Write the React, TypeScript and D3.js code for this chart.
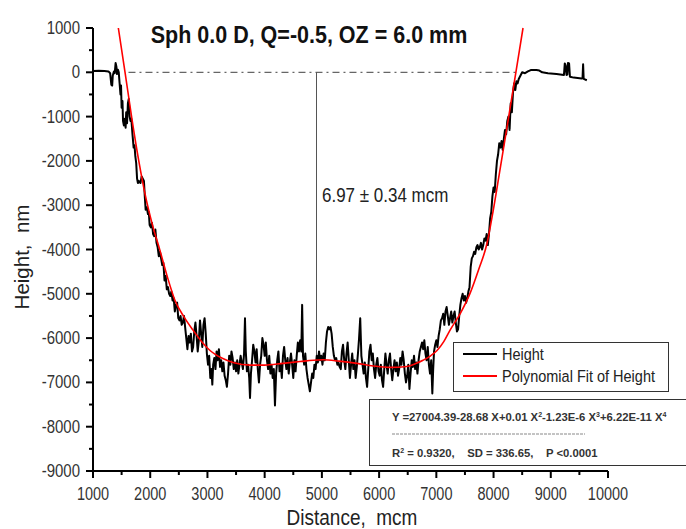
import React from "react";
import * as d3 from "d3";

const heightX = [1000,1100,1200,1270,1300,1320,1335,1345,1365,1380,1395,1410,1420,1435,1450,1465,1480,1490,1500,1515,1525,1540,1555,1570,1580,1595,1610,1625,1640,1655,1670,1690,1710,1725,1740,1755,1770,1785,1800,1830,1850,1870,1890,1905,1920,1940,1960,1975,1990,2010,2030,2050,2070,2090,2110,2130,2150,2170,2190,2210,2230,2250,2270,2290,2310,2330,2350,2370,2390,2410,2430,2450,2470,2490,2510,2530,2550,2570,2590,2610,2630,2650,2670,2690,2710,2730,2750,2770,2790,2810,2830,2850,2870,2890,2910,2930,2950,2970,2990,3010,3030,3050,3070,3085,3100,3120,3140,3160,3180,3200,3220,3240,3260,3280,3300,3320,3340,3360,3380,3400,3420,3440,3460,3480,3500,3520,3540,3560,3580,3600,3620,3640,3656,3670,3690,3710,3730,3744,3760,3780,3800,3820,3840,3860,3880,3900,3920,3940,3960,3980,4000,4020,4040,4060,4080,4100,4120,4140,4160,4180,4200,4220,4240,4260,4280,4300,4320,4340,4360,4380,4400,4420,4440,4460,4480,4500,4520,4540,4560,4580,4600,4620,4640,4655,4670,4690,4710,4730,4750,4770,4790,4810,4830,4850,4870,4890,4910,4930,4950,4970,4990,5010,5030,5050,5070,5090,5110,5130,5150,5170,5190,5210,5230,5250,5270,5290,5310,5330,5350,5370,5390,5410,5430,5450,5470,5490,5510,5530,5550,5570,5590,5610,5630,5650,5670,5690,5710,5730,5750,5770,5790,5810,5830,5850,5870,5890,5910,5930,5950,5970,5990,6010,6030,6050,6070,6090,6110,6130,6150,6170,6190,6210,6230,6250,6270,6290,6310,6330,6350,6370,6390,6410,6430,6450,6470,6490,6510,6530,6550,6570,6590,6610,6630,6650,6670,6690,6710,6730,6750,6770,6790,6810,6830,6850,6870,6890,6910,6930,6945,6960,6980,7000,7020,7040,7060,7080,7100,7120,7140,7160,7180,7200,7220,7240,7260,7280,7300,7320,7340,7360,7380,7400,7420,7440,7460,7480,7500,7520,7540,7560,7580,7600,7620,7640,7660,7680,7700,7720,7740,7760,7780,7800,7820,7840,7860,7880,7900,7920,7940,7960,7980,8000,8020,8040,8060,8080,8100,8120,8140,8160,8180,8200,8220,8240,8260,8280,8300,8320,8340,8360,8380,8400,8420,8440,8460,8500,8550,8600,8650,8750,8800,8850,8950,9100,9230,9245,9260,9275,9290,9300,9320,9335,9400,9540,9555,9565,9575,9630];
const heightY = [30,35,30,20,-20,-280,-300,-80,20,-20,210,120,-40,60,0,-250,-500,-300,-800,-650,-1100,-1200,-1050,-1250,-900,-1150,-700,-600,-1000,-1100,-1050,-1400,-1700,-1650,-1900,-2050,-2400,-2500,-2450,-2500,-2350,-2400,-2450,-2800,-3100,-3050,-3200,-3150,-3450,-3500,-3400,-3650,-3700,-3550,-3850,-3950,-4150,-4050,-4200,-4350,-4300,-4700,-4600,-4900,-4850,-5000,-5050,-4950,-5150,-5100,-5400,-5250,-5200,-5550,-5600,-5500,-5700,-5650,-5500,-5750,-6000,-6250,-5950,-6100,-5900,-6300,-6200,-5850,-5650,-5950,-6300,-6050,-5600,-5900,-6200,-5700,-5550,-5900,-6350,-6600,-6400,-6900,-6700,-7050,-6600,-6450,-6700,-6300,-6500,-6250,-6650,-6500,-6750,-6550,-6850,-6950,-7100,-6800,-6400,-6600,-6300,-6450,-6700,-6550,-6750,-6500,-6800,-6600,-6400,-6550,-6700,-6350,-5550,-6300,-6750,-6600,-6900,-7350,-6800,-6500,-6150,-6300,-6550,-6250,-6700,-7000,-6600,-6400,-6000,-6150,-6400,-6100,-6500,-6700,-6400,-6800,-6600,-6900,-6700,-7520,-6800,-6500,-6300,-6750,-6600,-6900,-6400,-6200,-6500,-6700,-6450,-6800,-6550,-6350,-6600,-6900,-6500,-6750,-6400,-6100,-6300,-6050,-6300,-5250,-6400,-6600,-6350,-6700,-6900,-7050,-7200,-7000,-6800,-6900,-6600,-6700,-6400,-6550,-6300,-6500,-6400,-6600,-6350,-6500,-6100,-5850,-5750,-5800,-5750,-5900,-6200,-6400,-6500,-6450,-6600,-6550,-6650,-6700,-6300,-6150,-6500,-6700,-6350,-6100,-6500,-6900,-6600,-6350,-6700,-6500,-6900,-6650,-6350,-6000,-5550,-6400,-6600,-6800,-6550,-6900,-7100,-6700,-6300,-6150,-6500,-6350,-6700,-6900,-6600,-6450,-6750,-6850,-6600,-6950,-7100,-6700,-6350,-6600,-6800,-6500,-6350,-6700,-6950,-6700,-6500,-6750,-6550,-6850,-6700,-6450,-6600,-6300,-6500,-6800,-7000,-6850,-6600,-7150,-6800,-6500,-6650,-6400,-6700,-6550,-6800,-6500,-6300,-6200,-6100,-6250,-6050,-6350,-6500,-6200,-6600,-6800,-6500,-7250,-6700,-6300,-6150,-6050,-6200,-5950,-5800,-5600,-5550,-5450,-5700,-5400,-5300,-5500,-5700,-5550,-5400,-5650,-5500,-5400,-5650,-5850,-5800,-5500,-5250,-5100,-5000,-5150,-5050,-5200,-5100,-4950,-4850,-4400,-4200,-4150,-4050,-4100,-3950,-3900,-4000,-3950,-3850,-4000,-3900,-3750,-3800,-3650,-3900,-3650,-3300,-3150,-2800,-2600,-2700,-2300,-2000,-1850,-1600,-1700,-1550,-1750,-1500,-1300,-1400,-1100,-1000,-1300,-700,-900,-450,-250,-400,-200,-250,-150,-100,0,-20,20,50,50,40,0,-20,-40,-60,200,150,-60,-50,210,200,-100,-120,-140,-130,180,-150,-180];

const fitX = [1443,1560,1680,1800,1910,2040,2170,2300,2433,2590,2748,2900,3045,3250,3447,3744,4000,4320,4618,4850,5020,5300,5614,5900,6190,6487,6650,6767,6900,7012,7130,7240,7420,7589,7740,7886,7990,8100,8235,8390,8515];
const fitY = [1000,0,-1050,-2000,-2750,-3450,-4020,-4620,-5150,-5520,-5820,-6080,-6280,-6450,-6550,-6610,-6610,-6570,-6530,-6500,-6490,-6520,-6570,-6630,-6660,-6640,-6570,-6500,-6400,-6280,-6080,-5820,-5440,-4990,-4450,-3860,-3150,-2300,-1240,0,1000];

const xTicks = [1000,2000,3000,4000,5000,6000,7000,8000,9000,10000];
const yTicks = [1000,0,-1000,-2000,-3000,-4000,-5000,-6000,-7000,-8000,-9000];
const xMinor = [1500,2500,3500,4500,5500,6500,7500,8500,9500];
const yMinor = [500,-500,-1500,-2500,-3500,-4500,-5500,-6500,-7500,-8500];

const titleText = "Sph 0.0 D, Q=-0.5, OZ = 6.0 mm";
const xTitle = "Distance,  mcm";
const yTitle = "Height,  nm";
const annotation = "6.97 ± 0.34 mcm";
const legendItems = ["Height", "Polynomial Fit of Height"];
const markerX = 4906;
const markerBottom = -6600;
const zeroFrom = 1620;
const zeroTo = 8420;

export default function App() {
  const x = d3.scaleLinear().domain([1000, 10000]).range([93, 608]);
  const y = d3.scaleLinear().domain([-9000, 1000]).range([471, 28]);
  const hData: [number, number][] = heightX.map((v, i) => [v, heightY[i]]);
  const fData: [number, number][] = fitX.map((v, i) => [v, fitY[i]]);
  const line = d3.line<[number, number]>().x(d => x(d[0])).y(d => y(d[1]));
  const fitLine = d3.line<[number, number]>().curve(d3.curveMonotoneX).x(d => x(d[0])).y(d => y(d[1]));
  const font = "'Liberation Sans', Arial, sans-serif";
  const tc = "#333";
  const sup = (s: string) => <tspan dy={-4.5} fontSize={7}>{s}</tspan>;
  const base = (s: string) => <tspan dy={4.5}>{s}</tspan>;
  const pre = { whiteSpace: "pre" as const };

  return (
    <svg width={686} height={529} style={{ position: "absolute", left: 0, top: 0, background: "#fff" }} fontFamily={font}>
      <rect x={0} y={0} width={686} height={529} fill="#fff" />
      <text transform={`translate(309,43) scale(1,1.1)`} textAnchor="middle" fontWeight="bold" fontSize={21.5} fill="#111" style={pre}>{titleText}</text>

      <line x1={x(zeroFrom)} x2={x(zeroTo)} y1={y(0)} y2={y(0)} stroke="#666" strokeWidth={1.2} strokeDasharray="7,4,2,4" />
      <line x1={x(markerX)} x2={x(markerX)} y1={y(0)} y2={y(markerBottom)} stroke="#555" strokeWidth={1} />

      <path d={line(hData) || ""} fill="none" stroke="#000" strokeWidth={2} strokeLinejoin="round" />
      <path d={fitLine(fData) || ""} fill="none" stroke="#f00" strokeWidth={1.6} />

      <line x1={x(1000)} x2={x(1000)} y1={y(1000)} y2={y(-9000) + 1} stroke="#000" strokeWidth={2} />
      <line x1={x(1000) - 1} x2={x(10000)} y1={y(-9000)} y2={y(-9000)} stroke="#000" strokeWidth={2} />
      {yTicks.map(t => (
        <g key={"yt" + t}>
          <line x1={x(1000) - 7} x2={x(1000)} y1={y(t)} y2={y(t)} stroke="#000" strokeWidth={2} />
          <text transform={`translate(${x(1000) - 13},${y(t) + 6}) scale(1,1.2)`} textAnchor="end" fontSize={15} fill={tc}>{t}</text>
        </g>
      ))}
      {yMinor.map(t => (
        <line key={"ym" + t} x1={x(1000) - 4} x2={x(1000)} y1={y(t)} y2={y(t)} stroke="#000" strokeWidth={2} />
      ))}
      {xTicks.map(t => (
        <g key={"xt" + t}>
          <line x1={x(t)} x2={x(t)} y1={y(-9000)} y2={y(-9000) + 7} stroke="#000" strokeWidth={2} />
          <text transform={`translate(${x(t)},${y(-9000) + 29}) scale(1,1.25)`} textAnchor="middle" fontSize={14.5} fill={tc}>{t}</text>
        </g>
      ))}
      {xMinor.map(t => (
        <line key={"xm" + t} x1={x(t)} x2={x(t)} y1={y(-9000)} y2={y(-9000) + 4} stroke="#000" strokeWidth={2} />
      ))}
      <text transform={`translate(352,525) scale(1,1.15)`} textAnchor="middle" fontSize={19} fill="#222" style={pre}>{xTitle}</text>
      <text transform={`translate(28.5,257) rotate(-90)`} textAnchor="middle" fontSize={20.5} fill="#222" style={pre}>{yTitle}</text>

      <text transform={`translate(322,202) scale(1,1.15)`} fontSize={17} fill="#222">{annotation}</text>

      <rect x={453.5} y={342.5} width={215} height={49} fill="#fff" stroke="#333" strokeWidth={1} />
      <line x1={463} x2={497} y1={354} y2={354} stroke="#000" strokeWidth={1.8} />
      <line x1={463} x2={497} y1={376} y2={376} stroke="#f00" strokeWidth={1.8} />
      <text transform={`translate(502,359.5) scale(1,1.2)`} fontSize={14.5} fill="#222">{legendItems[0]}</text>
      <text transform={`translate(502,381.5) scale(1,1.2)`} fontSize={14.5} fill="#222">{legendItems[1]}</text>

      <rect x={369.5} y={399.5} width={330} height={66} fill="#fff" stroke="#333" strokeWidth={1} />
      <text x={392} y={421} fontSize={11.3} fontWeight="bold" fill="#333" style={pre}>
        Y =27004.39-28.68 X+0.01 X{sup("2")}{base("-1.23E-6 X")}{sup("3")}{base("+6.22E-11 X")}{sup("4")}
      </text>
      <line x1={392} x2={585} y1={434} y2={434} stroke="#888" strokeWidth={1} strokeDasharray="3,1" />
      <text x={392} y={457} fontSize={11.3} fontWeight="bold" fill="#333" style={pre}>
        R{sup("2")}{base(" = 0.9320,    SD = 336.65,    P <0.0001")}
      </text>
    </svg>
  );
}
